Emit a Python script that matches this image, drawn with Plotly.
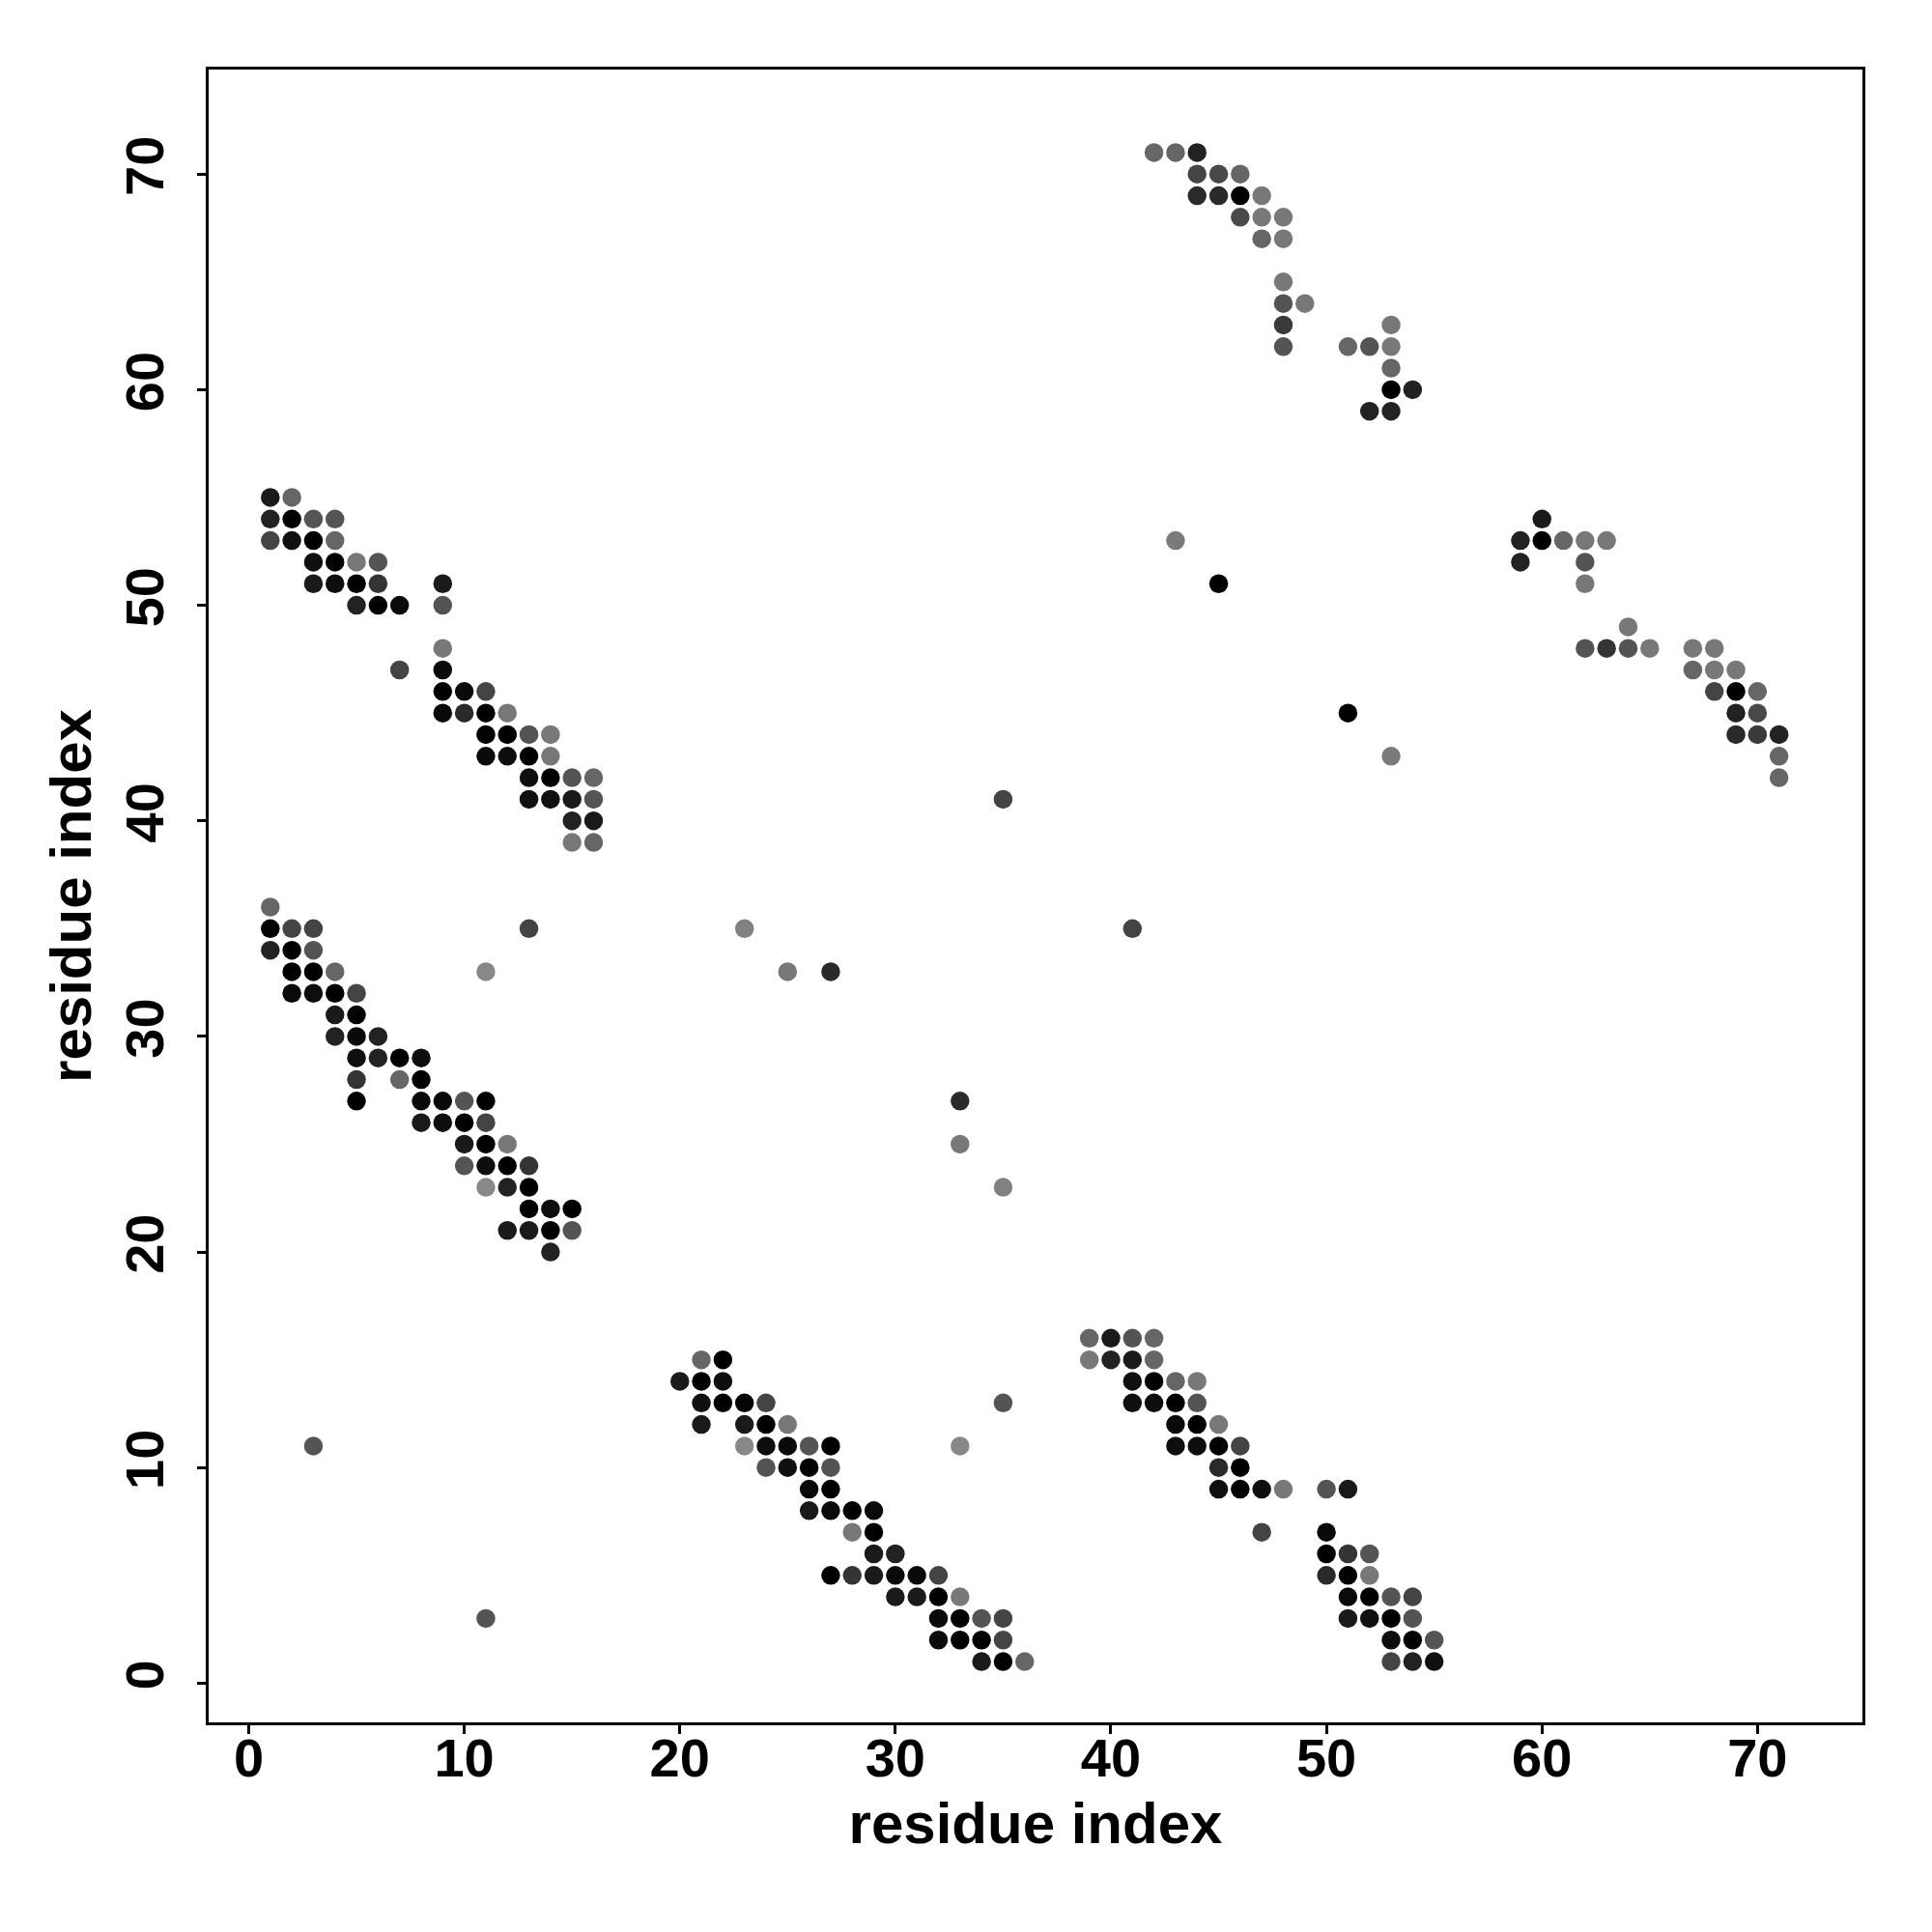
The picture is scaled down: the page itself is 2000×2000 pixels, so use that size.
import plotly.graph_objects as go

# residue i, residue j, contact score (1 = darkest)
res_i = [
    1, 2, 1, 2, 3, 4, 1, 2, 3, 4, 3, 4, 5, 6, 3, 4, 5, 6, 9, 5, 6, 7, 9, 9, 7, 9, 9, 10, 11,
    9, 10, 11, 12, 11, 12, 13, 14, 11, 12, 13, 14, 13, 14, 15, 16, 13, 14, 15, 16, 15, 16, 15, 16,
    1, 1, 2, 3, 13, 1, 2, 3, 2, 3, 4, 11, 2, 3, 4, 5, 4, 5, 4, 5, 6, 5, 6, 7, 8, 5, 7, 8,
    5, 8, 9, 10, 11, 8, 9, 10, 11, 10, 11, 12, 10, 11, 12, 13, 11, 12, 13, 13, 14, 15,
    12, 13, 14, 15, 14,
    21, 22, 20, 21, 22, 21, 22, 23, 24, 35, 21, 23, 24, 25, 23, 24, 25, 26, 27, 33,
    24, 25, 26, 27, 26, 27, 26, 27, 28, 29, 28, 29, 29, 30, 27, 28, 29, 30, 31, 32,
    30, 31, 32, 33, 32, 33, 34, 35, 32, 33, 34, 35, 34, 35, 36,
    39, 40, 41, 42, 39, 40, 41, 42, 41, 42, 43, 44, 41, 42, 43, 44, 43, 44, 45,
    43, 44, 45, 46, 45, 46, 45, 46, 47, 48, 50, 51, 47, 50, 50, 51, 52, 50, 51, 52,
    51, 52, 53, 54, 51, 52, 53, 54, 53, 54, 55, 53, 54, 55,
    42, 43, 44, 44, 45, 46, 44, 45, 46, 47, 46, 47, 48, 47, 48, 48, 48, 49, 48, 53,
    48, 51, 52, 53, 53, 53, 54, 52, 53,
    60, 59, 60, 61, 62, 63, 59, 62, 62, 64, 62, 63, 64, 65, 67, 68, 67, 68, 69,
    68, 69, 70, 69, 70, 69, 70, 71, 71, 71,
    3, 11, 23, 25, 27, 33, 33, 35, 35, 41, 43, 45, 51, 53,
]
res_j = [
    55, 55, 54, 54, 54, 54, 53, 53, 53, 53, 52, 52, 52, 52, 51, 51, 51, 51, 51, 50, 50, 50, 50, 48, 47, 47, 46, 46, 46,
    45, 45, 45, 45, 44, 44, 44, 44, 43, 43, 43, 43, 42, 42, 42, 42, 41, 41, 41, 41, 40, 40, 39, 39,
    36, 35, 35, 35, 35, 34, 34, 34, 33, 33, 33, 33, 32, 32, 32, 32, 31, 31, 30, 30, 30, 29, 29, 29, 29, 28, 28, 28,
    27, 27, 27, 27, 27, 26, 26, 26, 26, 25, 25, 25, 24, 24, 24, 24, 23, 23, 23, 22, 22, 22,
    21, 21, 21, 21, 20,
    15, 15, 14, 14, 14, 13, 13, 13, 13, 13, 12, 12, 12, 12, 11, 11, 11, 11, 11, 11,
    10, 10, 10, 10, 9, 9, 8, 8, 8, 8, 7, 7, 6, 6, 5, 5, 5, 5, 5, 5,
    4, 4, 4, 4, 3, 3, 3, 3, 2, 2, 2, 2, 1, 1, 1,
    16, 16, 16, 16, 15, 15, 15, 15, 14, 14, 14, 14, 13, 13, 13, 13, 12, 12, 12,
    11, 11, 11, 11, 10, 10, 9, 9, 9, 9, 9, 9, 7, 7, 6, 6, 6, 5, 5, 5,
    4, 4, 4, 4, 3, 3, 3, 3, 2, 2, 2, 1, 1, 1,
    71, 71, 71, 70, 70, 70, 69, 69, 69, 69, 68, 68, 68, 67, 67, 65, 64, 64, 63, 63,
    62, 62, 62, 62, 61, 60, 60, 59, 59,
    54, 53, 53, 53, 53, 53, 52, 52, 51, 49, 48, 48, 48, 48, 48, 48, 47, 47, 47,
    46, 46, 46, 45, 45, 44, 44, 44, 43, 42,
    11, 3, 35, 33, 33, 27, 25, 23, 41, 35, 53, 51, 45, 43,
]
score = [
    .81, .25, .75, 1, .38, .38, .5, .88, 1, .25, .88, 1, .12, .38, .81, .9, 1, .62, .81, .75, 1, .93, .38, .12, .5, .93, 1, .93, .5,
    .93, .69, 1, .12, 1, 1, .38, .12, .93, .9, 1, .12, .9, 1, .38, .25, .88, .88, .81, .38, .75, .81, .12, .25,
    .25, 1, .5, .5, .5, .75, 1, .38, 1, 1, .25, 0, .93, .9, 1, .5, .81, 1, .75, .93, .75, .88, .75, 1, .9, .62, .25, 1,
    1, .93, .93, .38, 1, .81, .9, 1, .5, .81, 1, .12, .38, .9, 1, .62, 0, .75, 1, 1, .9, 1,
    .81, .81, 1, .38, .75,
    .25, 1, .81, 1, .9, .88, 1, .97, .5, .38, .81, .81, 1, .12, 0, .9, .93, .38, 1, 0,
    .38, .88, 1, .38, .93, 1, .81, .93, 1, .93, .12, 1, .81, .75, 1, .62, .81, .93, .93, .5,
    .81, .81, 1, .12, .93, 1, .38, .5, .93, 1, 1, .5, .81, 1, .25,
    .25, .81, .38, .25, .12, .75, .81, .25, .88, 1, .25, .12, .88, .9, 1, .38, .93, 1, .12,
    .9, .9, 1, .5, .69, 1, .9, 1, .9, .12, .38, .81, .5, .93, 1, .62, .38, .69, 1, .12,
    .93, 1, .38, .5, .81, .88, 1, .38, .9, 1, .38, .5, .75, .88,
    .25, .25, .75, .5, .46, .25, .69, .69, 1, .12, .46, .12, .12, .25, .12, .12, .38, .12, .57, .12,
    .38, .25, .38, .12, .25, 1, .75, .75, .75,
    .81, .75, 1, .25, .12, .12, .75, .38, .12, .12, .38, .62, .38, .12, .12, .12, .25, .12, .12,
    .5, 1, .25, .75, .46, .69, .57, .75, .25, .25,
    .38, .38, .05, .12, .69, .69, .12, .05, .5, .5, .1, 1, 1, .1,
]

tick_vals = [0, 10, 20, 30, 40, 50, 60, 70]
axis_title = "residue index"

font_family = "Liberation Sans, Arial, Helvetica, sans-serif"

fig = go.Figure(
    go.Scatter(
        x=res_i,
        y=res_j,
        mode="markers",
        marker=dict(
            size=19.5,
            color=score,
            cmin=0,
            cmax=1,
            colorscale=[[0, "rgb(136,136,136)"], [1, "rgb(0,0,0)"]],
            line=dict(width=0),
            showscale=False,
        ),
        hoverinfo="x+y",
    )
)

axis_common = dict(
    tickvals=tick_vals,
    ticks="outside",
    ticklen=9,
    tickwidth=3,
    tickcolor="black",
    showline=True,
    linewidth=3,
    linecolor="black",
    mirror=True,
    showgrid=False,
    zeroline=False,
    tickfont=dict(family=font_family, size=56, color="black", weight="bold"),
)

fig.update_xaxes(
    range=[-1.86, 74.87],
    ticklabelstandoff=-23,
    title=dict(text=axis_title, font=dict(family=font_family, size=60, color="black", weight="bold"), standoff=16),
    **axis_common,
)
fig.update_yaxes(
    range=[-1.82, 74.85],
    tickangle=-90,
    ticklabelstandoff=13,
    title=dict(text=axis_title, font=dict(family=font_family, size=60, color="black", weight="bold"), standoff=4),
    **axis_common,
)

fig.update_layout(
    width=2000,
    height=2000,
    margin=dict(l=208, r=80, t=64, b=225, autoexpand=False),
    plot_bgcolor="white",
    paper_bgcolor="white",
    showlegend=False,
)

fig.write_html("out.html")
